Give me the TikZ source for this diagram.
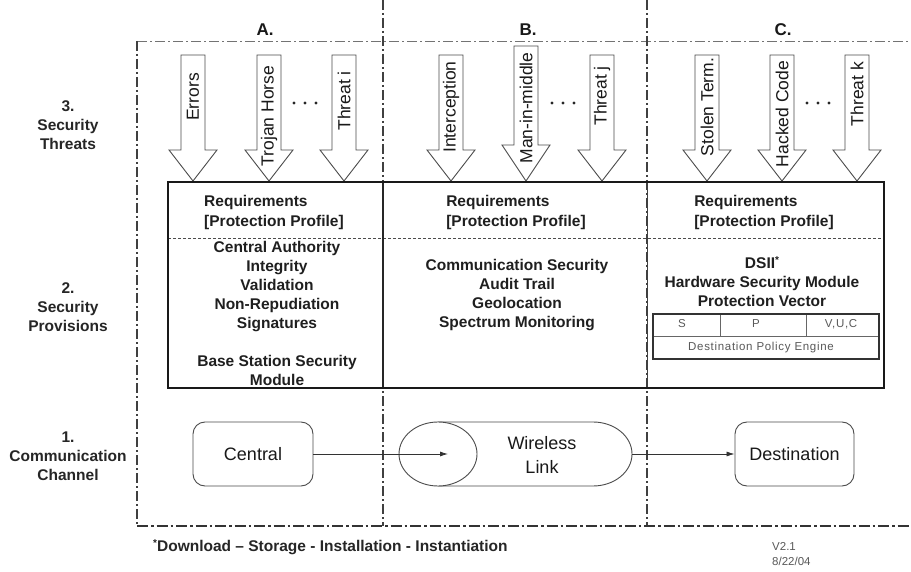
\documentclass[tikz,border=0pt]{standalone}
\usepackage{fontspec}
\setmainfont{Liberation Sans}
\newfontfamily\spacedfont[LetterSpace=6]{Liberation Sans}
\usetikzlibrary{arrows.meta,shapes.geometric}
\newcommand\boxfont{\fontsize{15.5}{19}\selectfont\bfseries}
\newcommand\arrfont{\fontsize{17.5}{20}\selectfont}
\newcommand\chanfont{\fontsize{18}{24}\selectfont}
\newcommand\starmark{\raisebox{5pt}{\fontsize{10}{10}\selectfont *}}
\newcommand\drawthreat[6]{%
  \draw[threat] (#1-12,#2) -- (#1+12,#2) -- (#1+12,#3) -- (#1+24,#3) -- (#1,181) -- (#1-24,#3) -- (#1-12,#3) -- cycle;
  \node[threattext] (#6) at (#1,#5) {#4};}
\begin{document}
\begin{tikzpicture}[x=1pt,y=-1pt,
  framev/.style={line width=1.1pt, draw=black!75, dash pattern=on 10pt off 3pt on 2pt off 3pt},
  frametop/.style={line width=0.8pt, draw=black!55, dash pattern=on 10pt off 3pt on 2pt off 3pt},
  framebot/.style={line width=1.6pt, draw=black!80, dash pattern=on 11pt off 3pt on 2.5pt off 3pt},
  threat/.style={draw=black!70, line width=0.9pt, fill=white},
  threattext/.style={rotate=90, inner sep=0pt, font=\arrfont, text=black!90},
  head/.style={font=\fontsize{17}{20}\selectfont\bfseries, text=black!90},
  side/.style={font=\boxfont, text=black!85, align=center},
  boxtext/.style={font=\boxfont, text=black!88, align=center, inner sep=0pt},
  reqtext/.style={font=\boxfont, text=black!88, align=left, inner sep=0pt},
  chan/.style={draw=black!70, line width=0.9pt, fill=white},
  rbox/.style={chan, rounded corners=12pt, minimum width=120pt, minimum height=64pt, font=\chanfont, text=black!90},
  conn/.style={draw=black!80, line width=0.8pt, -{Latex[length=8pt,width=5pt]}},
  dots/.style={fill=black!85}
]
\useasboundingbox (0,0) rectangle (911,572);
\fill[white] (0,0) rectangle (911,572);

% frame
\draw[frametop] (137,41) -- (911,41);
\draw[framev] (137,41) -- (137,526);
\draw[framev] (383,0) -- (383,526);
\draw[framev] (647,0) -- (647,526);
\draw[framebot] (137,526) -- (911,526);

% column headings
\node[head] (hA) at (265,30) {A.};
\node[head] (hB) at (528,30) {B.};
\node[head] (hC) at (783,30) {C.};

% left labels
\node[side] (l3) at (68,125) {3.\\Security\\Threats};
\node[side] (l2) at (68,307) {2.\\Security\\Provisions};
\node[side] (l1) at (68,456) {1.\\Communication\\Channel};

% threat arrows
\drawthreat{193}{55}{150}{Errors}{97}{tErr}
\drawthreat{269}{55}{150}{Trojan Horse}{116}{tTro}
\drawthreat{344}{55}{150}{Threat i}{101}{tTi}
\drawthreat{451}{55}{150}{Interception}{107}{tInt}
\drawthreat{526}{46}{145}{Man-in-middle}{108}{tMan}
\drawthreat{602}{55}{150}{Threat j}{96}{tTj}
\drawthreat{707}{55}{150}{Stolen Term.}{107}{tSto}
\drawthreat{782}{55}{150}{Hacked Code}{114}{tHac}
\drawthreat{857}{55}{150}{Threat k}{94}{tTk}

% ellipsis dots
\foreach \cx in {305,563,818}{
  \fill[dots] (\cx-11,103) circle (1.6);
  \fill[dots] (\cx,103) circle (1.6);
  \fill[dots] (\cx+11,103) circle (1.6);
}

% provisions box
\draw[black!70, line width=0.7pt, dash pattern=on 3pt off 2pt] (168,238) -- (884,238);
\draw[black!85, line width=1.6pt] (383,182) -- (383,388);
\draw[black!75, line width=1pt] (647,182) -- (647,388);
\draw[black!90, line width=2.6pt] (168,182) rectangle (884,388);

\node[reqtext] (rA) at (274,212) {Requirements\\[1pt][Protection Profile]};
\node[reqtext] (rB) at (516,212) {Requirements\\[1pt][Protection Profile]};
\node[reqtext] (rC) at (764,212) {Requirements\\[1pt][Protection Profile]};

\node[boxtext] (pA1) at (277,287) {Central Authority\\Integrity\\Validation\\Non-Repudiation\\Signatures};
\node[boxtext] (pA2) at (277,370) {Base Station Security\\Module};
\node[boxtext] (pB) at (517,295) {Communication Security\\Audit Trail\\Geolocation\\Spectrum Monitoring};
\node[boxtext] (pC) at (762,282) {DSII\starmark\\Hardware Security Module\\Protection Vector};

% destination policy engine table
\draw[black!60, line width=0.8pt] (653,336) -- (879,336);
\draw[black!60, line width=0.8pt] (720,314) -- (720,336);
\draw[black!60, line width=0.8pt] (806,314) -- (806,336);
\draw[black!80, line width=1.8pt] (653,314) rectangle (879,359);
\node[font=\fontsize{11.5}{13}\selectfont\spacedfont, text=black!65] (tS) at (682,324) {S};
\node[font=\fontsize{11.5}{13}\selectfont\spacedfont, text=black!65] (tP) at (756,324) {P};
\node[font=\fontsize{11.5}{13}\selectfont\spacedfont, text=black!65] (tV) at (841,324) {V,U,C};
\node[font=\fontsize{11.5}{13}\selectfont\spacedfont, text=black!65] (tD) at (761,348) {Destination Policy Engine};

% communication channel
\node[rbox] (cen) at (253,454) {Central};
\draw[chan] (438,422) -- (593,422) arc[start angle=-90, end angle=90, x radius=39, y radius=32] -- (438,486) -- cycle;
\node[chan, ellipse, minimum width=78pt, minimum height=64pt, inner sep=0pt] (wle) at (438,454) {};
\node[font=\chanfont, align=center, text=black!90] (wl) at (542,455) {Wireless\\Link};
\coordinate (wlin) at (448,454);
\coordinate (wlr) at (632,454);
\node[rbox, minimum width=119pt] (dst) at (794.5,454) {Destination};
\draw[conn] (cen.east) -- (wlin);
\draw[conn] (wlr) -- (dst.west);

% footnote and version
\node[anchor=west, font=\fontsize{15.5}{19}\selectfont\bfseries, text=black!85, inner sep=0pt] (fn) at (153,547) {\starmark Download -- Storage - Installation - Instantiation};
\node[anchor=north west, align=left, font=\fontsize{11.5}{15}\selectfont, text=black!65, inner sep=0pt] (ver) at (772,542) {V2.1\\8/22/04};
\end{tikzpicture}
\end{document}
